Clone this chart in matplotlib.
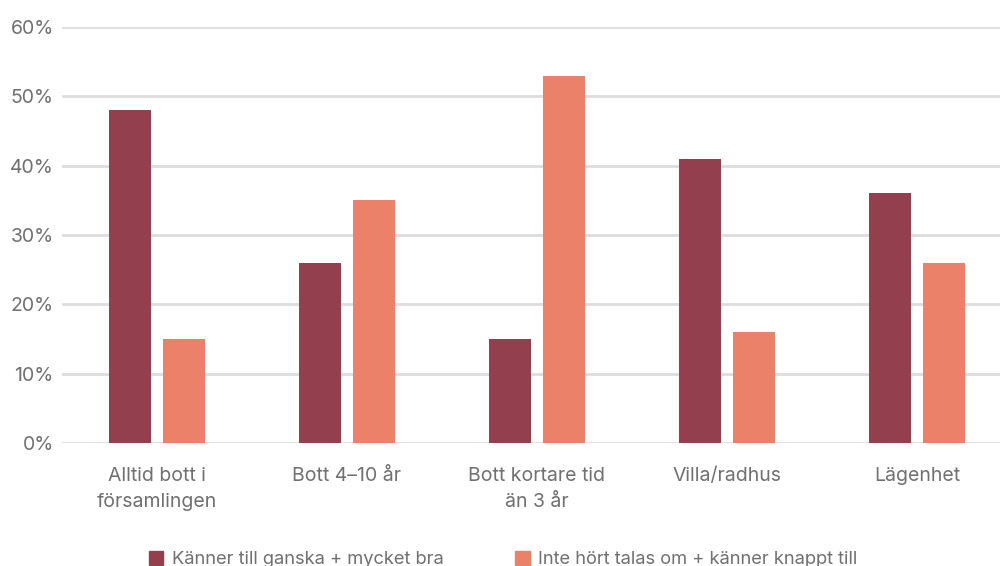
import matplotlib
matplotlib.use("Agg")
import matplotlib.pyplot as plt
from matplotlib.patches import Patch
import numpy as np

categories = ["Alltid bott i\nförsamlingen", "Bott 4–10 år", "Bott kortare tid\nän 3 år",
              "Villa/radhus", "Lägenhet"]
series_names = ["Känner till ganska + mycket bra", "Inte hört talas om + känner knappt till"]
known = [48, 26, 15, 41, 36]
unknown = [15, 35, 53, 16, 26]
yticks = [0, 10, 20, 30, 40, 50, 60]

dark = "#943F4E"
light = "#EC8169"
text_col = "#707070"
grid_col = "#dddddd"

plt.rcParams['font.family'] = ['Inter', 'DejaVu Sans']

fig = plt.figure(figsize=(10, 5.66), dpi=100)
ax = fig.add_axes([0.062, 0.2173, 0.95, 0.735])

x = np.arange(len(categories))
w = 0.221
off = 0.142
ax.bar(x - off, known, width=w, color=dark, zorder=3)
ax.bar(x + off, unknown, width=w, color=light, zorder=3)

ax.set_xlim(-0.5, len(categories) - 0.5)
ax.set_ylim(0, 60)
ax.set_yticks(yticks)
ax.set_yticklabels([f"{v}%" for v in yticks])
ax.yaxis.grid(True, color=grid_col, linewidth=2)
ax.set_axisbelow(True)
for s in ax.spines.values():
    s.set_visible(False)
ax.tick_params(axis='y', length=0, pad=6, labelsize=14, labelcolor=text_col)
ax.set_xticks(x)
ax.set_xticklabels(categories, linespacing=1.6)
ax.tick_params(axis='x', length=0, pad=17, labelsize=14, labelcolor=text_col)

handles = [Patch(color=dark), Patch(color=light)]
fig.legend(handles, series_names, loc='center', bbox_to_anchor=(0.503, 0.012), ncol=2,
           frameon=False, fontsize=13.2, labelcolor=text_col, handlelength=0.8,
           handleheight=0.8, handletextpad=0.45, columnspacing=3.9, borderaxespad=0)

fig.savefig("out.png", dpi=100)
